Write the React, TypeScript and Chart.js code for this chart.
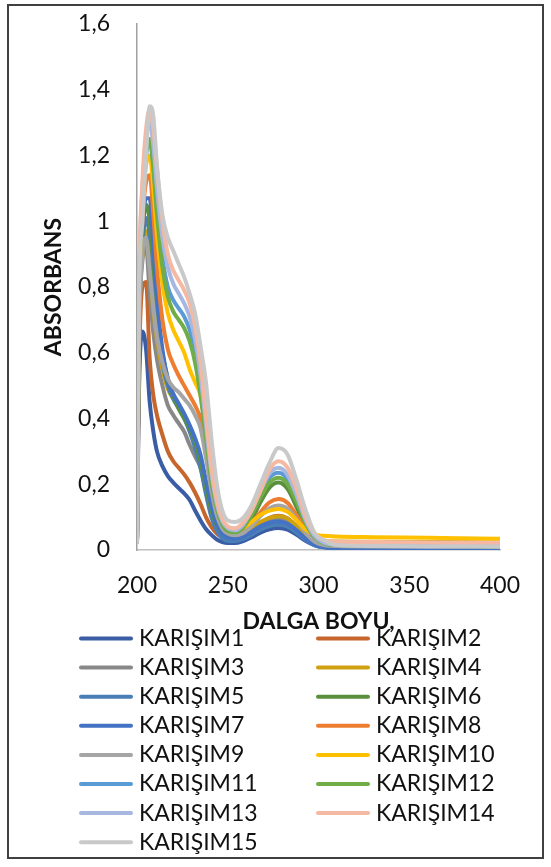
import React, { useEffect, useRef } from "react";
import { Chart, registerables } from "chart.js";

Chart.register(...registerables);

// Wavelength (nm) sample points shared by all series
const wavelengths = [200, 201, 203, 205, 207, 209, 211, 214, 217, 220, 223, 226, 229, 232, 235, 238, 241, 244, 247, 250, 254, 258, 263, 268, 273, 278, 283, 288, 293, 298, 303, 310, 330, 360, 400];

const karisim1 = [0.02, 0.46, 0.665, 0.61, 0.45, 0.36, 0.3, 0.255, 0.225, 0.205, 0.188, 0.172, 0.152, 0.12, 0.09, 0.064, 0.046, 0.032, 0.024, 0.021, 0.021, 0.026, 0.038, 0.053, 0.063, 0.067, 0.062, 0.046, 0.027, 0.014, 0.009, 0.007, 0.006, 0.005, 0.005];
const karisim2 = [0.02, 0.52, 0.8, 0.815, 0.58, 0.47, 0.41, 0.35, 0.3, 0.27, 0.25, 0.23, 0.205, 0.175, 0.14, 0.1, 0.07, 0.05, 0.038, 0.033, 0.032, 0.037, 0.055, 0.08, 0.098, 0.104, 0.096, 0.07, 0.04, 0.022, 0.016, 0.014, 0.013, 0.012, 0.011];
const karisim3 = [0.02, 0.6, 0.88, 0.92, 0.78, 0.66, 0.58, 0.5, 0.44, 0.41, 0.385, 0.36, 0.32, 0.285, 0.25, 0.18, 0.11, 0.065, 0.045, 0.038, 0.036, 0.04, 0.056, 0.076, 0.09, 0.095, 0.088, 0.065, 0.038, 0.02, 0.013, 0.012, 0.011, 0.011, 0.01];
const karisim4 = [0.02, 0.62, 0.9, 0.97, 0.86, 0.73, 0.64, 0.55, 0.49, 0.46, 0.44, 0.41, 0.37, 0.32, 0.26, 0.18, 0.11, 0.07, 0.05, 0.043, 0.042, 0.047, 0.064, 0.085, 0.098, 0.103, 0.096, 0.072, 0.045, 0.03, 0.027, 0.026, 0.025, 0.024, 0.023];
const karisim5 = [0.02, 0.62, 0.92, 1.01, 0.95, 0.8, 0.68, 0.57, 0.5, 0.46, 0.43, 0.4, 0.36, 0.31, 0.25, 0.17, 0.1, 0.058, 0.036, 0.028, 0.027, 0.032, 0.046, 0.062, 0.073, 0.077, 0.071, 0.052, 0.03, 0.014, 0.008, 0.006, 0.005, 0.005, 0.004];
const karisim6 = [0.02, 0.64, 0.95, 1.05, 1.0, 0.86, 0.72, 0.6, 0.52, 0.47, 0.43, 0.4, 0.37, 0.33, 0.27, 0.19, 0.12, 0.075, 0.052, 0.044, 0.044, 0.055, 0.09, 0.145, 0.19, 0.205, 0.185, 0.13, 0.07, 0.032, 0.018, 0.014, 0.013, 0.012, 0.012];
const karisim7 = [0.02, 0.65, 0.97, 1.07, 1.07, 0.92, 0.76, 0.61, 0.52, 0.475, 0.445, 0.415, 0.38, 0.34, 0.29, 0.21, 0.135, 0.08, 0.05, 0.038, 0.035, 0.04, 0.055, 0.072, 0.083, 0.087, 0.08, 0.06, 0.034, 0.016, 0.008, 0.006, 0.005, 0.004, 0.004];
const karisim8 = [0.02, 0.68, 1.0, 1.12, 1.14, 1.02, 0.86, 0.7, 0.61, 0.565, 0.53, 0.5, 0.47, 0.44, 0.4, 0.32, 0.22, 0.13, 0.08, 0.058, 0.05, 0.056, 0.08, 0.115, 0.145, 0.155, 0.143, 0.105, 0.06, 0.03, 0.021, 0.019, 0.018, 0.018, 0.017];
const karisim9 = [0.02, 0.6, 0.9, 0.95, 0.85, 0.74, 0.65, 0.57, 0.52, 0.495, 0.48, 0.46, 0.44, 0.41, 0.37, 0.28, 0.18, 0.105, 0.065, 0.05, 0.045, 0.05, 0.072, 0.103, 0.127, 0.135, 0.125, 0.092, 0.052, 0.025, 0.015, 0.012, 0.011, 0.011, 0.01];
const karisim10 = [0.02, 0.7, 1.04, 1.17, 1.2, 1.1, 0.96, 0.81, 0.72, 0.67, 0.635, 0.6, 0.55, 0.51, 0.47, 0.36, 0.24, 0.14, 0.09, 0.068, 0.06, 0.066, 0.085, 0.107, 0.12, 0.125, 0.116, 0.09, 0.062, 0.047, 0.043, 0.041, 0.039, 0.037, 0.034];
const karisim11 = [0.02, 0.72, 1.06, 1.2, 1.245, 1.17, 1.04, 0.89, 0.8, 0.76, 0.735, 0.71, 0.67, 0.6, 0.5, 0.36, 0.22, 0.13, 0.08, 0.06, 0.055, 0.068, 0.11, 0.17, 0.22, 0.235, 0.215, 0.155, 0.085, 0.04, 0.022, 0.016, 0.014, 0.013, 0.012];
const karisim12 = [0.02, 0.72, 1.06, 1.21, 1.25, 1.16, 1.02, 0.86, 0.77, 0.725, 0.7, 0.675, 0.635, 0.57, 0.47, 0.34, 0.21, 0.125, 0.078, 0.058, 0.054, 0.066, 0.105, 0.16, 0.205, 0.22, 0.2, 0.145, 0.08, 0.038, 0.02, 0.015, 0.013, 0.012, 0.011];
const karisim13 = [0.02, 0.74, 1.1, 1.25, 1.3, 1.23, 1.1, 0.95, 0.86, 0.81, 0.78, 0.75, 0.71, 0.64, 0.53, 0.38, 0.235, 0.14, 0.088, 0.066, 0.06, 0.074, 0.12, 0.18, 0.233, 0.25, 0.228, 0.165, 0.09, 0.042, 0.022, 0.016, 0.014, 0.013, 0.012];
const karisim14 = [0.02, 0.75, 1.12, 1.28, 1.34, 1.28, 1.16, 1.0, 0.9, 0.85, 0.82, 0.79, 0.75, 0.68, 0.57, 0.41, 0.25, 0.15, 0.095, 0.072, 0.066, 0.08, 0.12, 0.18, 0.245, 0.27, 0.25, 0.184, 0.1, 0.05, 0.03, 0.025, 0.024, 0.023, 0.022];
const karisim15 = [0.02, 0.76, 1.0, 1.2, 1.35, 1.32, 1.17, 1.02, 0.95, 0.91, 0.87, 0.83, 0.78, 0.72, 0.62, 0.51, 0.34, 0.2, 0.12, 0.09, 0.085, 0.095, 0.135, 0.2, 0.265, 0.31, 0.29, 0.21, 0.12, 0.05, 0.03, 0.015, 0.012, 0.011, 0.01];

const seriesLabels = ["KARIŞIM1", "KARIŞIM2", "KARIŞIM3", "KARIŞIM4", "KARIŞIM5", "KARIŞIM6", "KARIŞIM7", "KARIŞIM8", "KARIŞIM9", "KARIŞIM10", "KARIŞIM11", "KARIŞIM12", "KARIŞIM13", "KARIŞIM14", "KARIŞIM15"];
const seriesValues = [karisim1, karisim2, karisim3, karisim4, karisim5, karisim6, karisim7, karisim8, karisim9, karisim10, karisim11, karisim12, karisim13, karisim14, karisim15];
const seriesColors = ["#3A5DA6", "#C6652C", "#888888", "#CFA010", "#4A7FB6", "#5A8F3D", "#4472C4", "#ED7D31", "#A5A5A5", "#FFC000", "#5B9BD5", "#70AD47", "#A6B8E0", "#F5B8A3", "#C9C9C9"];

const xTitle = "DALGA BOYU,";
const yTitle = "ABSORBANS";

const FONT = "Lato, 'Open Sans', sans-serif";

const framePlugin = {
  id: "frameAndLegend",
  beforeDraw(chart: any) {
    const ctx = chart.ctx;
    ctx.save();
    ctx.fillStyle = "#ffffff";
    ctx.fillRect(0, 0, chart.width, chart.height);
    ctx.restore();
  },
  afterDraw(chart: any) {
    const ctx = chart.ctx;
    ctx.save();
    ctx.strokeStyle = "#404040";
    ctx.lineWidth = 2;
    ctx.strokeRect(8, 5, 535, 853);
    ctx.font = `23px ${FONT}`;
    ctx.textBaseline = "middle";
    ctx.textAlign = "left";
    chart.data.datasets.forEach((ds: any, i: number) => {
      const col = i % 2;
      const row = Math.floor(i / 2);
      const x0 = col === 0 ? 79 : 316;
      const y = 638.5 + row * 29.1;
      ctx.strokeStyle = ds.borderColor;
      ctx.lineWidth = 4;
      ctx.lineCap = "round";
      ctx.beginPath();
      ctx.moveTo(x0 + 2, y);
      ctx.lineTo(x0 + 52, y);
      ctx.stroke();
      ctx.fillStyle = "#111111";
      ctx.fillText(ds.label, x0 + 60, y);
    });
    ctx.restore();
  },
};

export default function App() {
  const ref = useRef<HTMLCanvasElement>(null);
  useEffect(() => {
    if (!ref.current) return;
    const datasets = seriesValues.map((vals, i) => ({
      label: seriesLabels[i],
      data: wavelengths.map((x, j) => ({ x, y: vals[j] })),
      borderColor: seriesColors[i],
      backgroundColor: seriesColors[i],
      borderWidth: 4,
      pointRadius: 0,
      fill: false,
      cubicInterpolationMode: "monotone" as const,
      order: seriesValues.length - 1 - i,
    }));
    const chart = new Chart(ref.current, {
      type: "line",
      data: { datasets },
      options: {
        animation: false,
        responsive: false,
        devicePixelRatio: 1,
        layout: { padding: { left: 36, right: 51, top: 24, bottom: 231.8 } },
        plugins: { legend: { display: false }, tooltip: { enabled: false } },
        scales: {
          x: {
            type: "linear",
            min: 200,
            max: 400,
            ticks: { stepSize: 50, padding: 22, color: "#111111", font: { family: FONT, size: 23 } },
            grid: { display: false, drawTicks: false },
            border: { display: true, color: "#BFBFBF", width: 1.5 },
            title: { display: true, text: xTitle, color: "#111111", padding: { top: -14, bottom: 0 }, font: { family: FONT, size: 23, weight: "bold" } },
          },
          y: {
            type: "linear",
            min: 0,
            max: 1.6,
            afterFit: (scale: any) => {
              scale.width = 101;
              scale.paddingTop = 0;
              scale.paddingBottom = 0;
            },
            ticks: {
              stepSize: 0.2,
              padding: 27,
              color: "#111111",
              font: { family: FONT, size: 23 },
              callback: (v: any) => String(Math.round(Number(v) * 10) / 10).replace(".", ","),
            },
            grid: { display: false, drawTicks: false },
            border: { display: true, color: "#A0A0A0", width: 1.5 },
            title: { display: true, text: yTitle, color: "#111111", padding: { top: 4, bottom: 4 }, font: { family: FONT, size: 23, weight: "bold" } },
          },
        },
      },
      plugins: [framePlugin],
    });
    return () => chart.destroy();
  }, []);
  return (
    <canvas
      ref={ref}
      width={551}
      height={867}
      style={{ position: "fixed", left: 0, top: 0, width: 551, height: 867, display: "block" }}
    />
  );
}
